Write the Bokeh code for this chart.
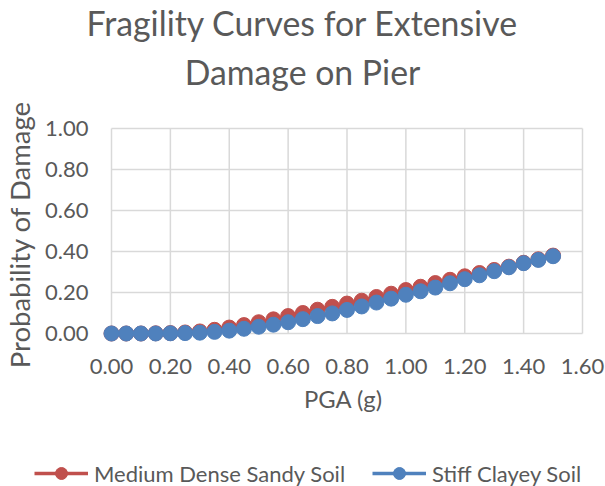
from bokeh.plotting import figure
from bokeh.layouts import column
from bokeh.models import Range1d, FixedTicker, NumeralTickFormatter, Label, Legend, LegendItem
from bokeh.embed import file_html
from bokeh.resources import INLINE

# ---------------- data ----------------
pga = [0.00, 0.05, 0.10, 0.15, 0.20, 0.25, 0.30, 0.35, 0.40, 0.45,
       0.50, 0.55, 0.60, 0.65, 0.70, 0.75, 0.80, 0.85, 0.90, 0.95,
       1.00, 1.05, 1.10, 1.15, 1.20, 1.25, 1.30, 1.35, 1.40, 1.45, 1.50]
sandy = [0.000, 0.000, 0.000, 0.001, 0.002, 0.005, 0.010, 0.018, 0.029, 0.041,
         0.055, 0.069, 0.085, 0.100, 0.116, 0.130, 0.146, 0.160, 0.178, 0.194,
         0.212, 0.228, 0.246, 0.262, 0.279, 0.295, 0.310, 0.326, 0.345, 0.362, 0.380]
clayey = [0.000, 0.000, 0.000, 0.000, 0.001, 0.002, 0.004, 0.008, 0.014, 0.023,
          0.033, 0.043, 0.055, 0.070, 0.085, 0.098, 0.115, 0.132, 0.151, 0.170,
          0.189, 0.206, 0.224, 0.245, 0.265, 0.284, 0.304, 0.323, 0.343, 0.359, 0.377]
series_names = ["Medium Dense Sandy Soil", "Stiff Clayey Soil"]
x_ticks = [0.0, 0.2, 0.4, 0.6, 0.8, 1.0, 1.2, 1.4, 1.6]
y_ticks = [0.0, 0.2, 0.4, 0.6, 0.8, 1.0]
title_lines = ["Fragility Curves for Extensive", "Damage on Pier"]
x_label = "PGA (g)"
y_label = "Probability of Damage"

# ---------------- style / layout ----------------
W, H = 605, 486
RED = "#C0504D"
BLUE = "#4F81BD"
GRID = "#D9D9D9"
TEXT = "#595959"
FONT = "Lato"

TOP_H = 96           # title strip
LEG_H = 50           # legend strip
MAIN_H = H - TOP_H - LEG_H

FRAME_L, FRAME_R, FRAME_T, FRAME_B = 102, 584, 126, 342   # in whole-page pixels
X0_PX, X1_PX = 111, 582
Y0_PX, Y1_PX = 333, 128
px_per_x = (X1_PX - X0_PX) / (x_ticks[-1] - x_ticks[0])
px_per_y = (Y0_PX - Y1_PX) / (y_ticks[-1] - y_ticks[0])
x_start = x_ticks[0] - (X0_PX - FRAME_L) / px_per_x
x_end = x_ticks[-1] + (FRAME_R - X1_PX) / px_per_x
y_start = y_ticks[0] - (FRAME_B - Y0_PX) / px_per_y
y_end = y_ticks[-1] + (Y1_PX - FRAME_T) / px_per_y


def strip(height, y_range=(0, 1)):
    f = figure(width=W, height=height, output_backend="svg", toolbar_location=None,
               title=None, x_axis_location=None, y_axis_location=None,
               x_range=Range1d(0, 1), y_range=Range1d(*y_range), min_border=0,
               frame_align=False)
    f.outline_line_color = None
    f.grid.visible = False
    f.background_fill_color = "white"
    f.border_fill_color = "white"
    return f


# ---------------- title strip ----------------
top = strip(TOP_H)
TITLE_CX = 302
BASELINE_SHIFT = 16.5   # anchor-to-baseline distance of the label text box
for line, base in zip(title_lines, (39, 88)):
    top.add_layout(Label(x=TITLE_CX, y=TOP_H - base + BASELINE_SHIFT, x_units="screen", y_units="screen",
                         text=line, text_align="center", text_baseline="alphabetic",
                         text_font=FONT, text_font_size="33.8px", text_color=TEXT))

# ---------------- main plot ----------------
p = figure(width=W, height=MAIN_H, output_backend="svg", toolbar_location=None, title=None,
           x_range=Range1d(x_start, x_end), y_range=Range1d(y_start, y_end),
           min_border_left=FRAME_L, min_border_right=W - FRAME_R,
           min_border_top=FRAME_T - TOP_H, min_border_bottom=H - LEG_H - FRAME_B,
           frame_align=False)
p.outline_line_color = None
p.grid.visible = False
p.background_fill_color = "white"
p.border_fill_color = "white"

# gridlines (from tick arrays)
p.segment(x0=x_ticks, y0=[y_ticks[0]] * len(x_ticks), x1=x_ticks, y1=[y_ticks[-1]] * len(x_ticks),
          line_color=GRID, line_width=1.5)
p.segment(x0=[x_ticks[0]] * len(y_ticks), y0=y_ticks, x1=[x_ticks[-1]] * len(y_ticks), y1=y_ticks,
          line_color=GRID, line_width=1.5)

# series
p.line(pga, sandy, line_color=RED, line_width=3.5)
p.scatter(pga, sandy, size=15, fill_color=RED, line_color=RED)
p.line(pga, clayey, line_color=BLUE, line_width=3.5)
p.scatter(pga, clayey, size=15, fill_color=BLUE, line_color=BLUE)

# axes
for ax, ticks in ((p.xaxis, x_ticks), (p.yaxis, y_ticks)):
    ax.ticker = FixedTicker(ticks=ticks)
    ax.formatter = NumeralTickFormatter(format="0.00")
    ax.axis_line_color = None
    ax.major_tick_line_color = None
    ax.minor_tick_line_color = None
    ax.major_tick_out = 0
    ax.major_tick_in = 0
    ax.major_label_text_font = FONT
    ax.major_label_text_font_size = "22px"
    ax.major_label_text_color = TEXT
    ax.axis_label_text_font = FONT
    ax.axis_label_text_font_style = "normal"
    ax.axis_label_text_color = TEXT

p.xaxis.axis_label = x_label
p.yaxis.axis_label = y_label
p.xaxis.axis_label_text_font_size = "23.8px"
p.yaxis.axis_label_text_font_size = "27.5px"
p.xaxis.major_label_standoff = 16
p.xaxis.axis_label_standoff = 8
p.yaxis.major_label_standoff = 14
p.yaxis.axis_label_standoff = 6

# ---------------- legend strip ----------------
# the series are drawn here only to give the legend its glyphs; the view
# range is kept clear of them so that only the legend shows
leg = strip(LEG_H, y_range=(-3, -2))
r_line = leg.line(pga, sandy, line_color=RED, line_width=3.5)
r_pts = leg.scatter(pga, sandy, fill_color=RED, line_color=RED)
b_line = leg.line(pga, clayey, line_color=BLUE, line_width=3.5)
b_pts = leg.scatter(pga, clayey, fill_color=BLUE, line_color=BLUE)
LEG_CY = 473 - (H - LEG_H)          # centre of legend row, from strip top
GLYPH_H = 30
legend = Legend(items=[LegendItem(label=series_names[0], renderers=[r_line, r_pts]),
                       LegendItem(label=series_names[1], renderers=[b_line, b_pts])],
                orientation="horizontal",
                location=(34, LEG_H - LEG_CY - GLYPH_H / 2),
                padding=0, margin=0, spacing=27, glyph_width=54, glyph_height=GLYPH_H,
                label_height=GLYPH_H, label_standoff=6,
                label_text_font=FONT, label_text_font_size="22px", label_text_color=TEXT,
                border_line_color=None, background_fill_alpha=0)
leg.add_layout(legend)

layout = column(top, p, leg, spacing=0)
open("out.html", "w").write(file_html(layout, INLINE))
